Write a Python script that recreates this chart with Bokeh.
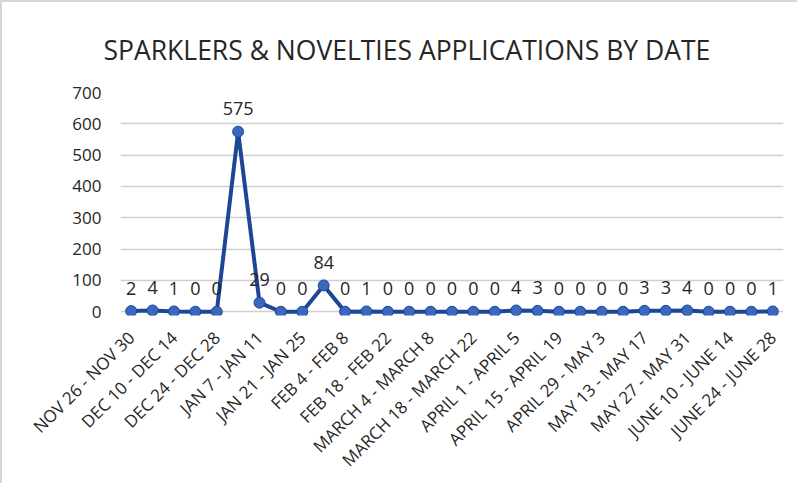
import math
from bokeh.plotting import figure
from bokeh.models import Range1d, FixedTicker, ColumnDataSource, Title
from bokeh.core.properties import value
from bokeh.embed import file_html
from bokeh.resources import INLINE

weeks = [
    "NOV 26 - NOV 30", "DEC 3 - DEC 7", "DEC 10 - DEC 14", "DEC 17 - DEC 21",
    "DEC 24 - DEC 28", "DEC 31 - JAN 4", "JAN 7 - JAN 11", "JAN 14 - JAN 18",
    "JAN 21 - JAN 25", "JAN 28 - FEB 1", "FEB 4 - FEB 8", "FEB 11 - FEB 15",
    "FEB 18 - FEB 22", "FEB 25 - MARCH 1", "MARCH 4 - MARCH 8", "MARCH 11 - MARCH 15",
    "MARCH 18 - MARCH 22", "MARCH 25 - MARCH 29", "APRIL 1 - APRIL 5", "APRIL 8 - APRIL 12",
    "APRIL 15 - APRIL 19", "APRIL 22 - APRIL 26", "APRIL 29 - MAY 3", "MAY 6 - MAY 10",
    "MAY 13 - MAY 17", "MAY 20 - MAY 24", "MAY 27 - MAY 31", "JUNE 3 - JUNE 7",
    "JUNE 10 - JUNE 14", "JUNE 17 - JUNE 21", "JUNE 24 - JUNE 28",
]
applications = [2, 4, 1, 0, 0, 575, 29, 0, 0, 84, 0, 1, 0, 0, 0, 0, 0, 0, 4, 3,
                0, 0, 0, 0, 3, 3, 4, 0, 0, 0, 1]
y_ticks = [0, 100, 200, 300, 400, 500, 600, 700]

FONT = "Open Sans"
TXT = "#262626"
LINE = "#1d4795"
FILL = "#3b67be"

idx = list(range(len(weeks)))
src = ColumnDataSource(dict(x=idx, y=applications, lbl=[str(v) for v in applications]))

p = figure(width=797, height=483, output_backend="svg", toolbar_location=None,
           x_range=Range1d(-0.5, len(weeks) - 0.5), y_range=Range1d(-12, 700),
           min_border_left=118, min_border_right=16, min_border_top=90,
           min_border_bottom=170, outline_line_color=None)
p.styles = {"border-top": "2px solid #d6d6d6", "border-left": "2px solid #d6d6d6"}

p.title = Title(text="SPARKLERS & NOVELTIES APPLICATIONS BY DATE", align="left",
                offset=-17, text_font=FONT, text_font_size="26.5px",
                text_font_style="normal", text_color=TXT, standoff=49)

p.xgrid.grid_line_color = None
p.ygrid.ticker = FixedTicker(ticks=y_ticks)
p.ygrid.grid_line_color = "#cfcfcf"
p.ygrid.grid_line_width = 1.5

p.yaxis.ticker = FixedTicker(ticks=y_ticks)
p.yaxis.axis_line_color = None
p.yaxis.major_tick_line_color = None
p.yaxis.minor_tick_line_color = None
p.yaxis.major_label_standoff = 13
p.yaxis.major_label_text_font = FONT
p.yaxis.major_label_text_font_size = "17px"
p.yaxis.major_label_text_color = TXT

even = idx[::2]
p.xaxis.ticker = FixedTicker(ticks=even)
p.xaxis.major_label_overrides = {i: weeks[i] for i in even}
p.xaxis.major_label_orientation = math.pi / 4
p.xaxis.axis_line_color = None
p.xaxis.major_tick_line_color = None
p.xaxis.minor_tick_line_color = None
p.xaxis.major_label_standoff = 13
p.xaxis.major_label_text_font = FONT
p.xaxis.major_label_text_font_size = "17px"
p.xaxis.major_label_text_color = TXT

p.line("x", "y", source=src, line_color=LINE, line_width=4)
p.scatter("x", "y", source=src, size=11, fill_color=FILL, line_color=LINE, line_width=1)
p.text("x", "y", text="lbl", source=src, text_font=value(FONT), text_font_size="18px",
       text_color=TXT, text_align="center", text_baseline="alphabetic", y_offset=-23)

open("out.html", "w").write(file_html(p, INLINE))
